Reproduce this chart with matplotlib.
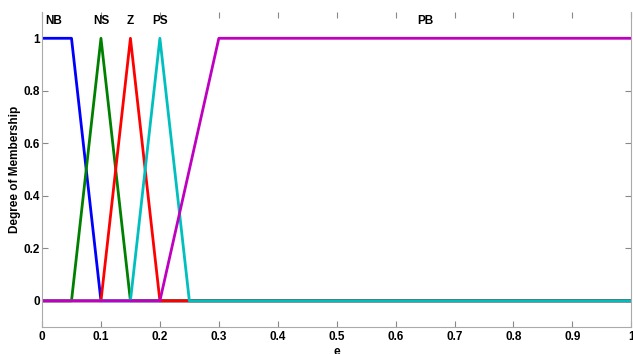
import matplotlib
matplotlib.use('Agg')
import matplotlib.pyplot as plt

plt.rcParams['font.family'] = ['Liberation Sans', 'DejaVu Sans']
plt.rcParams['font.weight'] = 'bold'

# membership function breakpoints (x, mu)
nb_x = [0, 0.05, 0.1, 1]
nb_y = [1, 1, 0, 0]
ns_x = [0, 0.05, 0.1, 0.15, 1]
ns_y = [0, 0, 1, 0, 0]
z_x = [0, 0.1, 0.15, 0.2, 1]
z_y = [0, 0, 1, 0, 0]
ps_x = [0, 0.15, 0.2, 0.25, 1]
ps_y = [0, 0, 1, 0, 0]
pb_x = [0, 0.2, 0.3, 1]
pb_y = [0, 0, 1, 1]

labels = ['NB', 'NS', 'Z', 'PS', 'PB']
label_x = [0.02, 0.1, 0.15, 0.2, 0.65]

fig = plt.figure(figsize=(6.33, 3.54), dpi=100)
ax = fig.add_axes([0.0664, 0.076, 0.931, 0.89])

ax.plot(nb_x, nb_y, color='#0000ff', lw=2)
ax.plot(ns_x, ns_y, color='#008000', lw=2)
ax.plot(z_x, z_y, color='#ff0000', lw=2)
ax.plot(ps_x, ps_y, color='#00bfbf', lw=2)
ax.plot(pb_x, pb_y, color='#bf00bf', lw=2)

for lab, lx in zip(labels, label_x):
    ax.text(lx, 1.065, lab, ha='center', va='center', fontsize=8.5, fontweight='bold')

ax.set_xlim(0, 1)
ax.set_ylim(-0.1, 1.1)
ax.set_xticks([0, 0.1, 0.2, 0.3, 0.4, 0.5, 0.6, 0.7, 0.8, 0.9, 1])
ax.set_xticklabels(['0', '0.1', '0.2', '0.3', '0.4', '0.5', '0.6', '0.7', '0.8', '0.9', '1'])
ax.set_yticks([0, 0.2, 0.4, 0.6, 0.8, 1])
ax.set_yticklabels(['0', '0.2', '0.4', '0.6', '0.8', '1'])
ax.tick_params(labelsize=8.5, direction='in', length=4, color='#888888',
               top=True, right=True, pad=3)
ax.tick_params(axis='y', pad=1.5)
for sp in ax.spines.values():
    sp.set_color('#aaaaaa')
ax.spines['top'].set_visible(False)

ax.set_xlabel('e', fontsize=8.5, fontweight='bold', labelpad=2)
ax.set_ylabel('Degree of Membership', fontsize=8.5, fontweight='bold')
ax.yaxis.set_label_coords(-0.036, 0.5)

fig.savefig('out.png', dpi=100)
